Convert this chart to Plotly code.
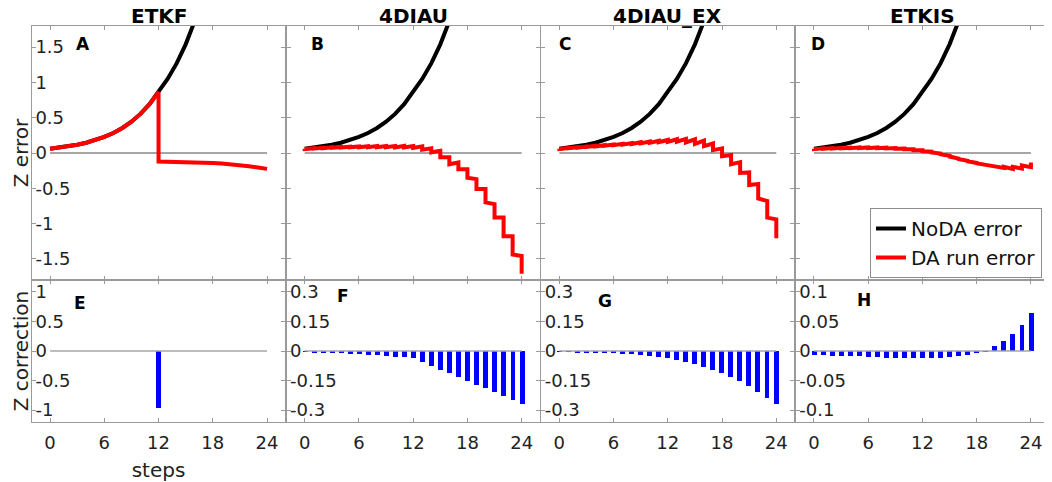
import plotly.graph_objects as go
from plotly.subplots import make_subplots

# steps of the assimilation window
steps = list(range(25))
step_ticks = [0, 6, 12, 18, 24]
methods = ["ETKF", "4DIAU", "4DIAU_EX", "ETKIS"]
top_letters = ["A", "B", "C", "D"]
bottom_letters = ["E", "F", "G", "H"]

# free run (no data assimilation), goes off the top of the axes after ~16
noda_steps = list(range(18))
noda_error = [0.060, 0.075, 0.094, 0.117, 0.146, 0.182, 0.228, 0.284, 0.355,
              0.443, 0.554, 0.692, 0.865, 1.05, 1.27, 1.54, 1.87, 2.27]

# DA run error: value before and after the correction at each step
etkf_before = [0.060, 0.075, 0.094, 0.117, 0.146, 0.182, 0.228, 0.284, 0.355,
               0.443, 0.554, 0.692, 0.865, -0.122, -0.125, -0.128, -0.132,
               -0.137, -0.143, -0.150, -0.160, -0.172, -0.187, -0.205, -0.225]
etkf_after = [0.060, 0.075, 0.094, 0.117, 0.146, 0.182, 0.228, 0.284, 0.355,
              0.443, 0.554, 0.692, -0.120, -0.122, -0.125, -0.128, -0.132,
              -0.137, -0.143, -0.150, -0.160, -0.172, -0.187, -0.205, -0.225]

diau_before = [0.060, 0.068, 0.075, 0.081, 0.086, 0.090, 0.093, 0.096, 0.098,
               0.099, 0.100, 0.100, 0.099, 0.095, 0.066, 0.030, -0.060, -0.135,
               -0.230, -0.370, -0.510, -0.725, -0.915, -1.180, -1.460]
diau_after = [0.056, 0.062, 0.068, 0.073, 0.077, 0.080, 0.082, 0.083, 0.083,
              0.082, 0.080, 0.078, 0.072, 0.047, 0.010, -0.060, -0.160, -0.230,
              -0.350, -0.510, -0.700, -0.915, -1.180, -1.440, -1.710]

diauex_before = [0.060, 0.071, 0.081, 0.091, 0.101, 0.111, 0.121, 0.131, 0.141,
                 0.152, 0.163, 0.174, 0.185, 0.195, 0.200, 0.193, 0.175, 0.135,
                 0.065, -0.030, -0.130, -0.275, -0.440, -0.680, -0.940]
diauex_after = [0.056, 0.066, 0.075, 0.084, 0.093, 0.102, 0.110, 0.119, 0.128,
                0.136, 0.144, 0.152, 0.158, 0.160, 0.150, 0.130, 0.097, 0.040,
                -0.045, -0.160, -0.283, -0.453, -0.645, -0.917, -1.207]

etkis_before = [0.062, 0.066, 0.070, 0.073, 0.076, 0.078, 0.079, 0.078, 0.075,
                0.070, 0.063, 0.052, 0.038, 0.018, -0.008, -0.040, -0.078,
                -0.112, -0.142, -0.168, -0.192, -0.212, -0.225, -0.220, -0.200]
etkis_after = [0.055, 0.059, 0.062, 0.065, 0.068, 0.070, 0.069, 0.068, 0.065,
               0.060, 0.053, 0.040, 0.026, 0.006, -0.019, -0.050, -0.086,
               -0.118, -0.145, -0.169, -0.184, -0.195, -0.196, -0.176, -0.135]

# Z correction applied at each step
etkf_corr = [0, 0, 0, 0, 0, 0, 0, 0, 0, 0, 0, 0, -0.96,
             0, 0, 0, 0, 0, 0, 0, 0, 0, 0, 0, 0]
diau_corr = [-0.005, -0.007, -0.008, -0.010, -0.012, -0.014, -0.016, -0.019,
             -0.022, -0.025, -0.028, -0.031, -0.035, -0.055, -0.075, -0.095,
             -0.113, -0.131, -0.150, -0.170, -0.190, -0.208, -0.227, -0.247, -0.267]
diauex_corr = [-0.005, -0.005, -0.006, -0.008, -0.009, -0.010, -0.012, -0.013,
               -0.015, -0.019, -0.024, -0.030, -0.037, -0.045, -0.055, -0.066,
               -0.079, -0.095, -0.112, -0.131, -0.153, -0.178, -0.206, -0.237, -0.267]
etkis_corr = [-0.007, -0.007, -0.008, -0.008, -0.009, -0.009, -0.010, -0.010,
              -0.011, -0.011, -0.011, -0.012, -0.012, -0.012, -0.011, -0.010,
              -0.008, -0.006, -0.003, -0.001, 0.008, 0.017, 0.029, 0.044, 0.065]

err_ticks = [-1.5, -1, -0.5, 0, 0.5, 1, 1.5]
corr_ticks = [
    [-1, -0.5, 0, 0.5, 1],
    [-0.3, -0.15, 0, 0.15, 0.3],
    [-0.3, -0.15, 0, 0.15, 0.3],
    [-0.1, -0.05, 0, 0.05, 0.1],
]

befores = [etkf_before, diau_before, diauex_before, etkis_before]
afters = [etkf_after, diau_after, diauex_after, etkis_after]
corrs = [etkf_corr, diau_corr, diauex_corr, etkis_corr]


def da_path(before, after):
    xs, ys = [], []
    for t, b, a in zip(steps, before, after):
        xs.append(t)
        ys.append(b)
        if a != b:
            xs.append(t)
            ys.append(a)
    return xs, ys


FONT = "DejaVu Sans, Arial, sans-serif"
AXCOL = "#9a9a9a"

fig = make_subplots(rows=2, cols=4, row_heights=[254, 142],
                    vertical_spacing=0, horizontal_spacing=0.0015)

corr_ranges = [[-1.2, 1.2], [-0.36, 0.36], [-0.36, 0.36], [-0.12, 0.12]]
top_letter_pos = [(3.6, 1.54), (1.4, 1.54), (0.6, 1.54), (0.5, 1.54)]
bot_letter_pos = [(3.3, 0.81), (4.2, 0.28), (5.1, 0.254), (5.5, 0.087)]

for c in range(4):
    col = c + 1
    zero_x = [steps[0], steps[-1]]
    fig.add_trace(go.Scatter(x=zero_x, y=[0, 0], mode="lines",
                             line=dict(color="#a6a6a6", width=2),
                             showlegend=False, hoverinfo="skip"), row=1, col=col)
    fig.add_trace(go.Scatter(x=noda_steps, y=noda_error, mode="lines",
                             name="NoDA error", legendgroup="noda",
                             showlegend=(c == 0),
                             line=dict(color="black", width=4)), row=1, col=col)
    px, py = da_path(befores[c], afters[c])
    fig.add_trace(go.Scatter(x=px, y=py, mode="lines",
                             name="DA run error", legendgroup="da",
                             showlegend=(c == 0),
                             line=dict(color="#ff0000", width=4)), row=1, col=col)

    fig.add_trace(go.Scatter(x=zero_x, y=[0, 0], mode="lines",
                             line=dict(color="#a6a6a6", width=1.3),
                             showlegend=False, hoverinfo="skip"), row=2, col=col)
    fig.add_trace(go.Bar(x=steps, y=corrs[c], width=0.55,
                         marker=dict(color="#0000ff", line=dict(width=0)),
                         showlegend=False), row=2, col=col)

    fig.update_yaxes(range=[-1.8, 1.8], tickvals=err_ticks,
                     ticktext=[f"{v:g}" for v in err_ticks],
                     showticklabels=(c == 0), row=1, col=col)
    fig.update_yaxes(range=corr_ranges[c], tickvals=corr_ticks[c],
                     ticktext=[f"{v:g}" for v in corr_ticks[c]],
                     row=2, col=col)
    fig.update_xaxes(showticklabels=False, row=1, col=col)

    n_top = col
    n_bot = col + 4
    sfx = "" if n_top == 1 else str(n_top)
    fig.add_annotation(text=f"<b>{methods[c]}</b>", xref=f"x{sfx} domain",
                       yref="paper", x=0.5, y=1, yanchor="middle", showarrow=False,
                       font=dict(size=20, color="black", family=FONT), yshift=10)
    lx, ly = top_letter_pos[c]
    fig.add_annotation(text=f"<b>{top_letters[c]}</b>", x=lx, y=ly,
                       xref=f"x{sfx}", yref=f"y{sfx}",
                       showarrow=False, font=dict(size=17, color="black", family=FONT))
    lx, ly = bot_letter_pos[c]
    fig.add_annotation(text=f"<b>{bottom_letters[c]}</b>", x=lx, y=ly,
                       xref=f"x{n_bot}", yref=f"y{n_bot}",
                       showarrow=False, font=dict(size=17, color="black", family=FONT))

fig.update_xaxes(range=[-2, 26], tickvals=step_ticks, ticks="inside", ticklen=4,
                 tickcolor=AXCOL, showline=True, linecolor=AXCOL, linewidth=1,
                 mirror="ticks", showgrid=False, zeroline=False, automargin=False,
                 tickfont=dict(size=18, color="#222", family=FONT),
                 ticklabelstandoff=4)
fig.update_yaxes(ticks="inside", ticklen=4, tickcolor=AXCOL, showline=True,
                 linecolor=AXCOL, linewidth=1, mirror="ticks", showgrid=False,
                 zeroline=False, ticklabelposition="inside", automargin=False,
                 ticklabeloverflow="allow",
                 tickfont=dict(size=18, color="#222", family=FONT))

fig.update_yaxes(title=dict(text="Z error", standoff=1,
                            font=dict(size=20, color="#222", family=FONT)),
                 row=1, col=1)
fig.update_yaxes(title=dict(text="Z correction", standoff=1,
                            font=dict(size=20, color="#222", family=FONT)),
                 row=2, col=1)
fig.update_xaxes(title=dict(text="steps", standoff=12,
                            font=dict(size=20, color="#222", family=FONT)),
                 row=2, col=1)

# the page puts the plot 8px in from the top-left corner, so the figure is
# made 8px smaller and the margins shifted to keep the axes where they belong
fig.update_layout(
    width=1044, height=474,
    margin=dict(l=24, r=3, t=18, b=60),
    paper_bgcolor="white", plot_bgcolor="white",
    font=dict(family=FONT, color="#222"),
    bargap=0,
    legend=dict(x=0.9931, y=0.5404, xanchor="right", yanchor="top",
                bordercolor="#8c8c8c", borderwidth=1, bgcolor="white",
                font=dict(size=20, color="#111", family=FONT),
                tracegroupgap=0, itemwidth=30),
)

fig.write_html("out.html")
